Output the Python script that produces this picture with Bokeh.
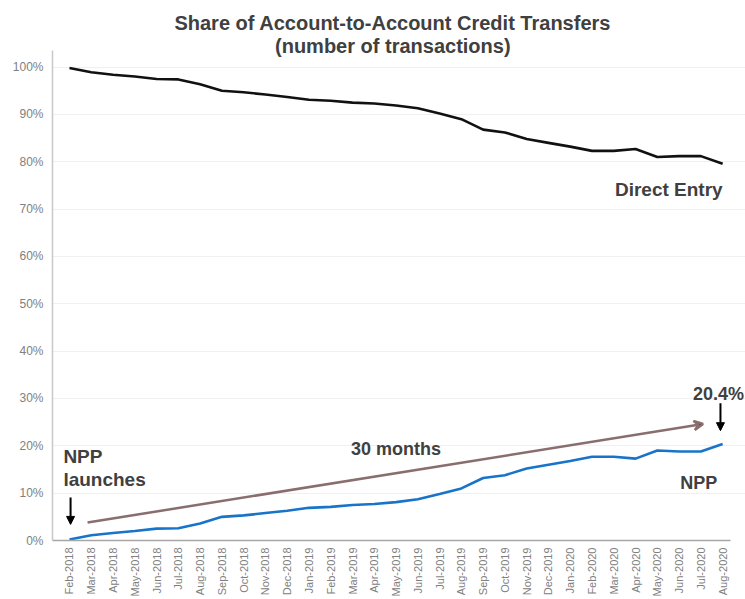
from bokeh.plotting import figure
from bokeh.models import Range1d, FixedTicker, Label, Arrow, VeeHead, NormalHead, NumeralTickFormatter
from bokeh.embed import file_html
from bokeh.resources import INLINE
import math

months = ["Feb-2018", "Mar-2018", "Apr-2018", "May-2018", "Jun-2018", "Jul-2018",
          "Aug-2018", "Sep-2018", "Oct-2018", "Nov-2018", "Dec-2018", "Jan-2019",
          "Feb-2019", "Mar-2019", "Apr-2019", "May-2019", "Jun-2019", "Jul-2019",
          "Aug-2019", "Sep-2019", "Oct-2019", "Nov-2019", "Dec-2019", "Jan-2020",
          "Feb-2020", "Mar-2020", "Apr-2020", "May-2020", "Jun-2020", "Jul-2020",
          "Aug-2020"]

direct_entry = [99.8, 98.9, 98.4, 98.0, 97.5, 97.4, 96.4, 95.0, 94.7, 94.2, 93.7,
                93.1, 92.9, 92.5, 92.3, 91.9, 91.3, 90.2, 89.0, 86.8, 86.2, 84.8,
                84.0, 83.2, 82.3, 82.3, 82.7, 81.0, 81.2, 81.2, 79.6]

npp = [0.2, 1.1, 1.6, 2.0, 2.5, 2.6, 3.6, 5.0, 5.3, 5.8, 6.3, 6.9, 7.1, 7.5, 7.7,
       8.1, 8.7, 9.8, 11.0, 13.2, 13.8, 15.2, 16.0, 16.8, 17.7, 17.7, 17.3, 19.0,
       18.8, 18.8, 20.4]

y_ticks = [0, 0.1, 0.2, 0.3, 0.4, 0.5, 0.6, 0.7, 0.8, 0.9, 1.0]

x = list(range(len(months)))
de = [v / 100 for v in direct_entry]
np_ = [v / 100 for v in npp]

FONT = "Liberation Sans"
TXT = "#404040"

p = figure(width=745, height=599, output_backend="svg", toolbar_location=None,
           x_range=Range1d(-0.78, 31.05), y_range=Range1d(0, 1.1407),
           min_border_top=0, min_border_left=52, min_border_right=0,
           min_border_bottom=0, outline_line_color=None)

p.line(x, de, line_color="#111111", line_width=2.6)
p.line(x, np_, line_color="#1874c8", line_width=2.6)

# axes
p.xaxis.ticker = FixedTicker(ticks=x)
p.xaxis.bounds = (-0.78, 30.37)
p.xaxis.major_label_overrides = {i: m for i, m in enumerate(months)}
p.xaxis.major_label_orientation = math.pi / 2
p.xaxis.major_label_text_font = FONT
p.xaxis.major_label_text_font_size = "11px"
p.xaxis.major_label_text_color = "#808080"
p.xaxis.major_tick_line_color = None
p.xaxis.major_tick_out = 0
p.xaxis.major_tick_in = 0
p.xaxis.minor_tick_line_color = None
p.xaxis.axis_line_color = "#a6a6a6"
p.xaxis.axis_line_width = 1.5
p.xaxis.major_label_standoff = 7

p.yaxis.ticker = FixedTicker(ticks=y_ticks)
p.yaxis.bounds = (0, 1.035)
p.yaxis.formatter = NumeralTickFormatter(format="0%")
p.yaxis.major_label_text_font = FONT
p.yaxis.major_label_text_font_size = "12px"
p.yaxis.major_label_text_color = "#808080"
p.yaxis.major_tick_line_color = None
p.yaxis.major_tick_out = 0
p.yaxis.major_tick_in = 0
p.yaxis.minor_tick_line_color = None
p.yaxis.axis_line_color = "#c8c8c8"
p.yaxis.axis_line_width = 1.5
p.yaxis.major_label_standoff = 9

p.xgrid.grid_line_color = None
p.ygrid.grid_line_color = "#f0f0f0"
p.ygrid.bounds = (-0.78, 30.37)

# trend arrow
p.add_layout(Arrow(x_start=0.83, y_start=0.038, x_end=29.1, y_end=0.246,
                   line_color="#8a6d6d", line_width=2.5,
                   end=VeeHead(size=9, line_color="#8a6d6d", line_width=2.5)))

# down arrows
for xa, y0, y1 in [(0.05, 0.091, 0.034), (29.9, 0.29, 0.232)]:
    p.add_layout(Arrow(x_start=xa, y_start=y0, x_end=xa, y_end=y1,
                       line_color="black", line_width=2,
                       end=NormalHead(size=8, fill_color="black", line_color="black")))

def lab(text, xx, yy, size, align="left", color=TXT):
    p.add_layout(Label(x=xx, y=yy, text=text, text_font=FONT, text_font_style="bold",
                       text_font_size=size, text_color=color, text_align=align,
                       text_baseline="alphabetic"))

lab("Share of Account-to-Account Credit Transfers", 14.85, 1.094, "20px", "center")
lab("(number of transactions)", 14.85, 1.044, "20px", "center")
lab("NPP", -0.28, 0.178, "19px")
lab("launches", -0.28, 0.128, "19px")
lab("30 months", 15.0, 0.193, "18px", "center")
lab("20.4%", 30.98, 0.309, "18px", "right")
lab("NPP", 28.9, 0.121, "18px", "center")
lab("Direct Entry", 30.0, 0.742, "19px", "right")

open("out.html", "w").write(file_html(p, INLINE))
